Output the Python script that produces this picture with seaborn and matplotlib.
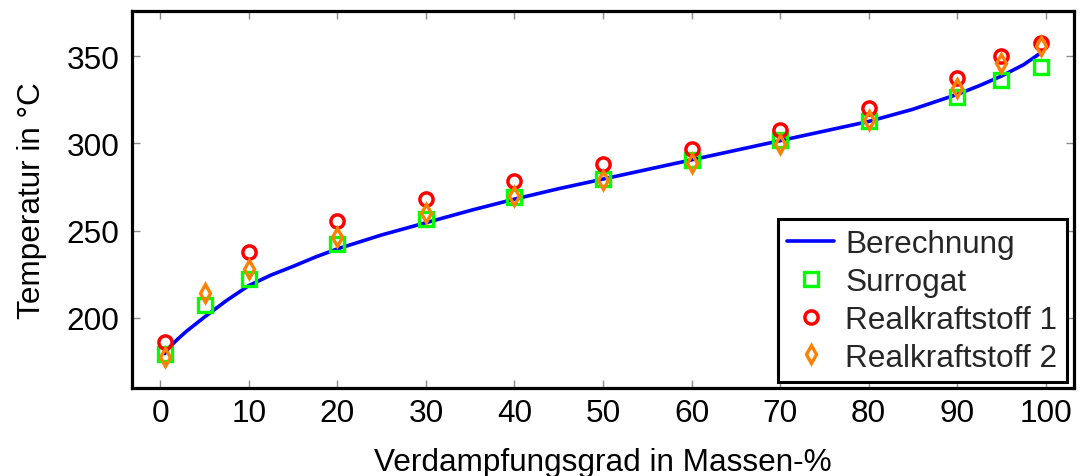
import numpy as np
import pandas as pd
import matplotlib
matplotlib.use("Agg")
import matplotlib.pyplot as plt
import seaborn as sns

# ---- data ----
calc_x = [0.5, 1, 2, 3, 4, 5, 7.5, 10, 12.5, 15, 17.5, 20, 25, 30, 35, 40, 45, 50, 55,
          60, 65, 70, 75, 80, 85, 90, 92.5, 95, 97.5, 99.5]
calc_t = [179.5, 183, 188, 192.5, 196.5, 200.5, 210, 218.5, 224.5, 229.5, 234.8,
          239.5, 247.5, 254.5, 261.5, 268, 274, 279.5, 285, 290.5, 296, 301.5,
          307, 312.5, 319.5, 328, 333, 338.5, 345, 352]

sur_x = [0.5, 5, 10, 20, 30, 40, 50, 60, 70, 80, 90, 95, 99.5]
sur_t = [179, 207.5, 222, 242.5, 256.5, 269, 279.5, 290.5, 302, 313, 326.5, 336.5, 343.5]

rk1_x = [0.5, 10, 20, 30, 40, 50, 60, 70, 80, 90, 95, 99.5]
rk1_t = [186, 237.5, 255.5, 268, 278.5, 288, 297, 307.5, 320, 337.5, 350, 357.5]

rk2_x = [0.5, 5, 10, 20, 30, 40, 50, 60, 70, 80, 90, 95, 99.5]
rk2_t = [177.5, 214, 228, 246.5, 260, 270, 278.8, 288.5, 299.5, 313.5, 331.5, 346, 355.5]

x_ticks = [0, 10, 20, 30, 40, 50, 60, 70, 80, 90, 100]
y_ticks = [200, 250, 300, 350]

labels = ["Berechnung", "Surrogat", "Realkraftstoff 1", "Realkraftstoff 2"]
xlabel = "Verdampfungsgrad in Massen-%"
ylabel = "Temperatur in °C"

# ---- style ----
sns.set_theme(style="white")
plt.rcParams["font.family"] = ["Liberation Sans", "DejaVu Sans"]
FS = 22.7

fig = plt.figure(figsize=(10.81, 4.77), dpi=100)
ax = fig.add_axes([132 / 1081, 1 - 389 / 477, (1074 - 132) / 1081, (389 - 12) / 477])

sns.lineplot(x=calc_x, y=calc_t, ax=ax, color="#0000ff", lw=2.6, sort=False,
             errorbar=None, label=labels[0], zorder=2,
             solid_joinstyle="round", solid_capstyle="round")
sns.lineplot(x=sur_x, y=sur_t, ax=ax, linestyle="", marker="s", ms=9.5,
             mfc="none", mec="#00ff00", mew=2.4, color="#00ff00", sort=False,
             errorbar=None, label=labels[1], zorder=3)
sns.lineplot(x=rk1_x, y=rk1_t, ax=ax, linestyle="", marker="o", ms=9.5,
             mfc="none", mec="#ff0000", mew=2.5, color="#ff0000", sort=False,
             errorbar=None, label=labels[2], zorder=4)
sns.lineplot(x=rk2_x, y=rk2_t, ax=ax, linestyle="", marker="d", ms=9,
             mfc="none", mec="#ff8000", mew=2.4, color="#ff8000", sort=False,
             errorbar=None, label=labels[3], zorder=5)

ax.set_xlim(-3.2, 103.2)
ax.set_ylim(159.8, 375.8)
ax.set_xticks(x_ticks)
ax.set_yticks(y_ticks)
ax.set_xticklabels([str(v) for v in x_ticks])
ax.set_yticklabels([str(v) for v in y_ticks])

ax.tick_params(axis="both", direction="in", length=6, width=1, color="#8c8c8c",
               labelsize=FS, labelcolor="black", top=True, right=True,
               bottom=True, left=True)
ax.tick_params(axis="x", pad=7)
ax.tick_params(axis="y", pad=9)

for s in ax.spines.values():
    s.set_color("black")
    s.set_linewidth(2.3)

ax.set_xlabel(xlabel, fontsize=FS, labelpad=14, color="black")
ax.set_ylabel(ylabel, fontsize=FS, labelpad=14, color="black")

leg = ax.legend(loc="lower right", bbox_to_anchor=(0.9926, 0.016), fontsize=FS,
                frameon=True, fancybox=False, framealpha=1, edgecolor="black",
                handlelength=1.5, handletextpad=0.35, labelspacing=0.25,
                borderpad=0.3, borderaxespad=0)
leg.get_frame().set_linewidth(2.2)

fig.savefig("out.png", dpi=100)
